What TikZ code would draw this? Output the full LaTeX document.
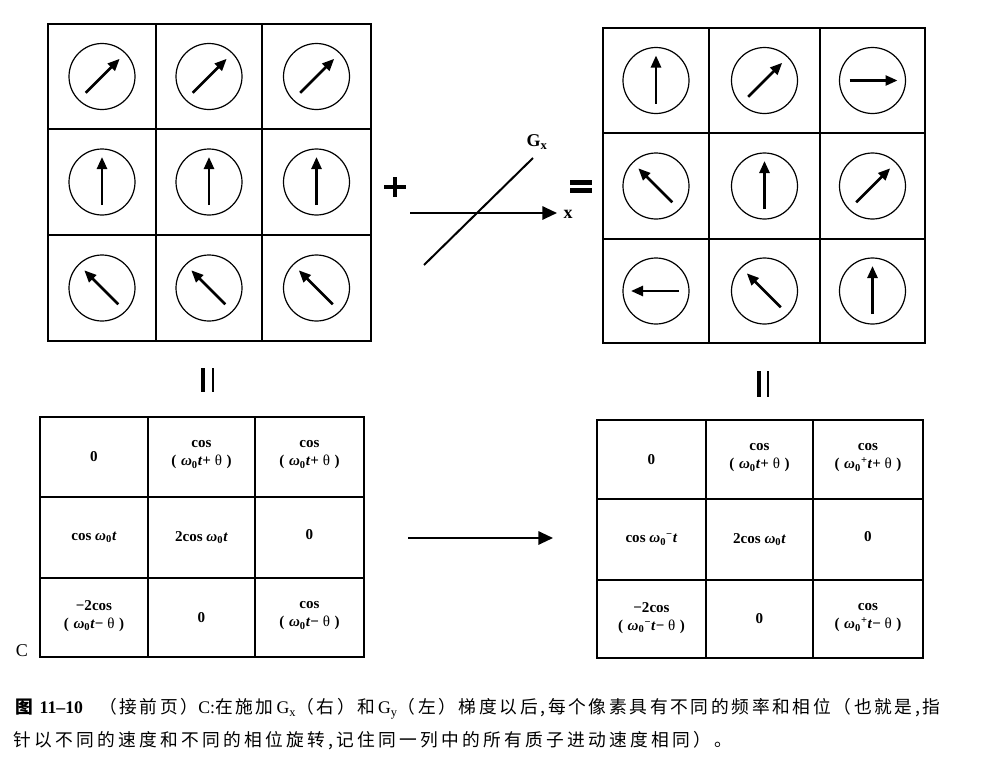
\documentclass[tikz,border=0pt]{standalone}
\usepackage{fontspec}
\setmainfont{Liberation Serif}
\newfontfamily\cjk[LetterSpace=15]{Noto Sans CJK SC}
\newfontfamily\cjkwide[LetterSpace=18.5]{Noto Sans CJK SC}
\usetikzlibrary{arrows.meta,calc}
\newcommand\lat[1]{{\rmfamily #1}}
\newcommand\wz{\textit{ω}\textsubscript{0}}
\newcommand\thz{{\mdseries θ}}
\newcommand\lp{(\hspace{0.3em}}
\newcommand\rp{\hspace{0.3em})}
\tikzset{
  gridline/.style={line width=2pt},
  spinc/.style={circle,draw,line width=0.9pt,minimum size=49.5pt,inner sep=0pt},
  spinarrow/.style={line width=1.9pt,-{Triangle[length=9pt,width=7.5pt]}},
  celltxt/.style={font=\fontsize{11.3}{13.5}\selectfont\bfseries,align=center,inner sep=0pt},
  bigarrow/.style={line width=1.5pt,-{Triangle[length=11pt,width=10pt]}},
  capline/.style={font=\cjk\fontsize{13.3}{16}\selectfont,anchor=west,inner sep=0pt},
  capline2/.style={font=\cjkwide\fontsize{13.3}{16}\selectfont,anchor=west,inner sep=0pt},
  heavy/.style={line width=3.2pt},
}
\begin{document}
\begin{tikzpicture}[x=0.75pt,y=-0.75pt]
\fill[white] (0,0) rectangle (1000,771);
\useasboundingbox (0,0) rectangle (1000,771);

% ---- top-left spin grid
\draw[gridline] (48,24) rectangle (371,341);
\draw[gridline] (156,24) -- (156,341) (262,24) -- (262,341)
                (48,129) -- (371,129) (48,235) -- (371,235);
\foreach \n/\x/\y/\a in {L11/102/76.5/45, L12/209/76.5/45, L13/316.5/76.5/45,
                          L21/102/182/90, L22/209/182/90, L23/316.5/182/90,
                          L31/102/288/135, L32/209/288/135, L33/316.5/288/135}{
  \node[spinc] (\n) at (\x,\y) {};
  \draw[spinarrow] ($(\n.center)+(-\a+180:23)$) -- ($(\n.center)+(-\a:25)$);
}

% ---- top-right spin grid
\draw[gridline] (603,28) rectangle (925,343);
\draw[gridline] (709,28) -- (709,343) (820,28) -- (820,343)
                (603,133) -- (925,133) (603,239) -- (925,239);
\foreach \n/\x/\y/\a in {R11/656/80.5/90, R12/764.5/80.5/45, R13/872.5/80.5/0,
                          R21/656/186/135, R22/764.5/186/90, R23/872.5/186/45,
                          R31/656/291/180, R32/764.5/291/135, R33/872.5/291/90}{
  \node[spinc] (\n) at (\x,\y) {};
  \draw[spinarrow] ($(\n.center)+(-\a+180:23)$) -- ($(\n.center)+(-\a:25)$);
}

% ---- plus and equals
\draw[heavy] (384,187) -- (406,187) (395,177) -- (395,197);
\draw[line width=3.4pt] (570,182.5) -- (592,182.5) (570,190.5) -- (592,190.5);

% ---- gradient sketch
\coordinate (gxs) at (410,213);
\coordinate (gxe) at (557,213);
\coordinate (gda) at (424,265);
\coordinate (gdb) at (533,158);
\draw[bigarrow] (gxs) -- (gxe);
\draw[line width=1.5pt] (gda) -- (gdb);
\node[font=\fontsize{13.5}{15}\selectfont\bfseries,inner sep=0pt] (gxlab) at (537,142) {G\textsubscript{x}};
\node[font=\fontsize{13.5}{15}\selectfont\bfseries,inner sep=0pt] (xlab) at (568,214) {x};

% ---- equal bars below
\draw[line width=3pt] (203,368) -- (203,392);
\draw[line width=2.2pt] (213,368) -- (213,392);
\draw[line width=3pt] (759,371) -- (759,397);
\draw[line width=2.2pt] (768,371) -- (768,397);

% ---- bottom-left table
\draw[gridline] (40,417) rectangle (364,657);
\draw[gridline] (148,417) -- (148,657) (255,417) -- (255,657)
                (40,497) -- (364,497) (40,578) -- (364,578);
\node[celltxt] (a11) at (94,457) {0};
\node[celltxt] (a12) at (201.5,455) {cos\\\lp\wz\textit{t}+ \thz\rp};
\node[celltxt] (a13) at (309.5,455) {cos\\\lp\wz\textit{t}+ \thz\rp};
\node[celltxt] (a21) at (94,537.5) {cos \wz\textit{t}};
\node[celltxt] (a22) at (201.5,537.5) {2cos \wz\textit{t}};
\node[celltxt] (a23) at (309.5,535) {0};
\node[celltxt] (a31) at (94,616) {−2cos\\\lp\wz\textit{t}− \thz\rp};
\node[celltxt] (a32) at (201.5,617.5) {0};
\node[celltxt] (a33) at (309.5,616) {cos\\\lp\wz\textit{t}− \thz\rp};
\node[font=\fontsize{13.5}{15}\selectfont,inner sep=0pt] (clab) at (22,651) {C};

% ---- bottom-right table
\draw[gridline] (597,420) rectangle (923,658);
\draw[gridline] (706,420) -- (706,658) (813,420) -- (813,658)
                (597,499) -- (923,499) (597,580) -- (923,580);
\node[celltxt] (b11) at (651.5,459.5) {0};
\node[celltxt] (b12) at (759.5,458) {cos\\\lp\wz\textit{t}+ \thz\rp};
\node[celltxt] (b13) at (868,458) {cos\\\lp\wz\textsuperscript{+}\textit{t}+ \thz\rp};
\node[celltxt] (b21) at (651.5,539.5) {cos \wz\textsuperscript{−}\textit{t}};
\node[celltxt] (b22) at (759.5,539.5) {2cos \wz\textit{t}};
\node[celltxt] (b23) at (868,537) {0};
\node[celltxt] (b31) at (651.5,618) {−2cos\\\lp\wz\textsuperscript{−}\textit{t}− \thz\rp};
\node[celltxt] (b32) at (759.5,619) {0};
\node[celltxt] (b33) at (868,618) {cos\\\lp\wz\textsuperscript{+}\textit{t}− \thz\rp};

% ---- arrow between tables
\coordinate (ta) at (408,538);
\coordinate (tb) at (553,538);
\draw[bigarrow] (ta) -- (tb);

% ---- caption
\node[capline] (cap1) at (15,709) {{\bfseries 图 \lat{11–10}}\hspace{0.9em}（接前页）\lat{C:}在施加\lat{\,G\textsubscript{x}}（右）和\lat{\,G\textsubscript{y}}（左）梯度以后,每个像素具有不同的频率和相位（也就是,指};
\node[capline2] (cap2) at (13,741) {针以不同的速度和不同的相位旋转,记住同一列中的所有质子进动速度相同）。};
\end{tikzpicture}
\end{document}
